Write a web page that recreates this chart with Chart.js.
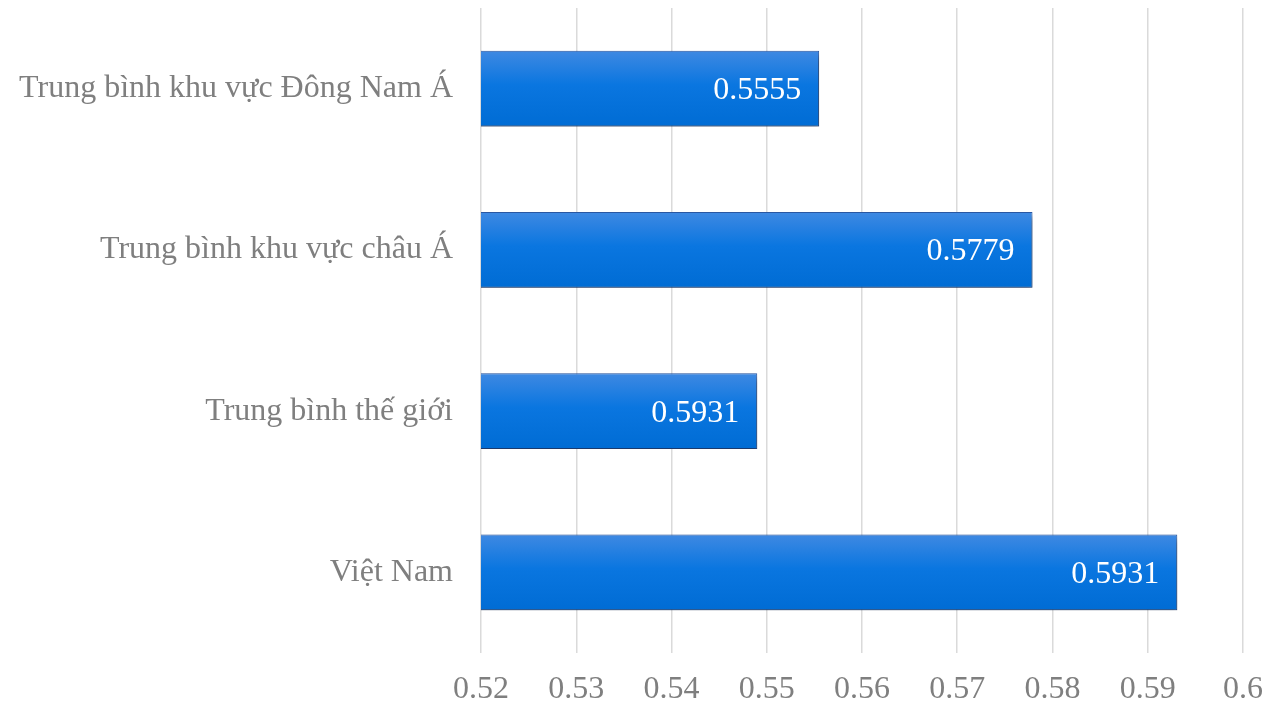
<!DOCTYPE html>
<html>
<head>
<meta charset="utf-8">
<script src="https://cdn.jsdelivr.net/npm/chart.js@4/dist/chart.umd.min.js"></script>
<style>
  html, body { margin: 0; padding: 0; background: #fff; }
  #wrap { width: 1285px; height: 705px; }
</style>
</head>
<body>
<div id="wrap"><canvas id="barChart"></canvas></div>
<script>
"use strict";
const categories = ['Trung bình khu vực Đông Nam Á', 'Trung bình khu vực châu Á', 'Trung bình thế giới', 'Việt Nam'];
const values = [0.5555, 0.5779, 0.549, 0.5931];
const valueLabels = ['0.5555', '0.5779', '0.5931', '0.5931'];
const xMin = 0.52;
const xMax = 0.6;
const xStep = 0.01;

const serif = '"Liberation Serif", "Times New Roman", serif';

//vertical gradient for each bar, lighter at top
function barFill(context) {
    const chart = context.chart;
    if (!chart.chartArea) return '#0a72da';
    const yScale = chart.scales.y;
    const yc = yScale.getPixelForValue(context.dataIndex);
    const half = 38;
    const g = chart.ctx.createLinearGradient(0, yc - half, 0, yc + half);
    g.addColorStop(0, '#3f89e2');
    g.addColorStop(0.45, '#0a76e0');
    g.addColorStop(1, '#006cd4');
    return g;
}

//shadow under the bars
const shadowPlugin = {
    id: 'barShadow',
    beforeDatasetsDraw(chart) {
        const ctx = chart.ctx;
        ctx.save();
        ctx.shadowColor = 'rgba(0,0,0,0.45)';
        ctx.shadowBlur = 7;
        ctx.shadowOffsetX = 3;
        ctx.shadowOffsetY = 4;
    },
    afterDatasetsDraw(chart) {
        chart.ctx.restore();
    }
};

//value labels inside the bar end, and x tick labels below the grid
const labelPlugin = {
    id: 'labels',
    afterDraw(chart) {
        const ctx = chart.ctx;
        const meta = chart.getDatasetMeta(0);
        ctx.save();
        ctx.font = '32px ' + serif;
        ctx.fillStyle = '#ffffff';
        ctx.textAlign = 'right';
        ctx.textBaseline = 'middle';
        meta.data.forEach((bar, i) => {
            ctx.fillText(valueLabels[i], bar.x - 18, bar.y + 2);
        });
        ctx.restore();

        const xScale = chart.scales.x;
        ctx.save();
        ctx.font = '32px ' + serif;
        ctx.fillStyle = '#7f7f7f';
        ctx.textAlign = 'center';
        ctx.textBaseline = 'middle';
        xScale.ticks.forEach((t, i) => {
            const px = xScale.getPixelForTick(i);
            const label = String(Math.round(t.value * 100) / 100);
            ctx.fillText(label, px, 690);
        });
        ctx.restore();
    }
};

const ctx = document.getElementById('barChart').getContext('2d');
const barChart = new Chart(ctx, {
    type: 'bar',
    data: {
        labels: categories,
        datasets: [
            {
                label: 'Giá trị',
                data: values,
                backgroundColor: barFill,
                borderColor: '#2a5aa8',
                borderWidth: 1,
                borderSkipped: false,
                categoryPercentage: 1,
                barPercentage: 0.47
            }
        ]
    },
    options: {
        indexAxis: 'y',
        responsive: true,
        maintainAspectRatio: false,
        animation: false,
        layout: {
            padding: { top: 8, right: 42, bottom: 0, left: 0 }
        },
        plugins: {
            legend: { display: false },
            tooltip: { enabled: false }
        },
        scales: {
            x: {
                min: xMin,
                max: xMax,
                ticks: {
                    stepSize: xStep,
                    display: false
                },
                grid: {
                    color: '#dadada',
                    lineWidth: 1.5,
                    drawTicks: false
                },
                border: { display: false },
                afterFit: (scale) => { scale.height = 52; }
            },
            y: {
                ticks: {
                    color: '#7f7f7f',
                    font: { family: serif, size: 32 },
                    padding: 20
                },
                grid: { display: false },
                border: { display: false },
                afterFit: (scale) => {
                    scale.width = 481;
                    scale.paddingTop = 0;
                    scale.paddingBottom = 0;
                }
            }
        }
    },
    plugins: [shadowPlugin, labelPlugin]
});
</script>
</body>
</html>
